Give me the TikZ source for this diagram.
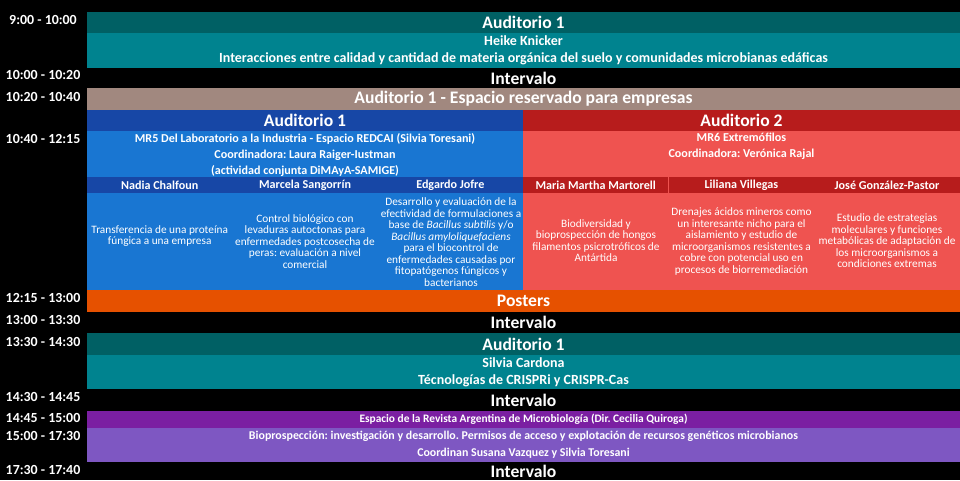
\documentclass[tikz,border=0pt]{standalone}
\usepackage{fontspec}
\setmainfont{Carlito}
\usetikzlibrary{positioning}
\definecolor{tealosc}{HTML}{006064}
\definecolor{tealcla}{HTML}{00838F}
\definecolor{marron}{HTML}{A1887F}
\definecolor{azulosc}{HTML}{1747A6}
\definecolor{azulcla}{HTML}{1976D2}
\definecolor{rojoosc}{HTML}{B71C1C}
\definecolor{rojocla}{HTML}{EF5350}
\definecolor{naranja}{HTML}{E65100}
\definecolor{violeta}{HTML}{7B1FA2}
\definecolor{lila}{HTML}{7E57C2}
\frenchspacing
\begin{document}
\begin{tikzpicture}[x=1pt,y=-1pt,
  franja/.style={anchor=north west,inner sep=0pt,outer sep=0pt,minimum width=873pt,text=white,align=center,font=\bfseries\fontsize{14}{17}\selectfont},
  titulo/.style={font=\bfseries\fontsize{17.6}{18}\selectfont},
  chica/.style={font=\bfseries\fontsize{12.1}{16}\selectfont},
  hora/.style={text=white,font=\bfseries\fontsize{13.9}{14}\selectfont},
  nombre/.style={franja,minimum width=145.4pt,minimum height=16pt,font=\bfseries\fontsize{12.1}{13}\selectfont},
  resumen/.style={text=white,align=center,font=\fontsize{11.3}{11.5}\selectfont}]
\fill[black] (0,0) rectangle (960,480);
\useasboundingbox (0,0) rectangle (960,480);

% horarios
\foreach \h/\y [count=\i] in {9:00 - 10:00/19.5, 10:00 - 10:20/75, 10:20 - 10:40/97,
    10:40 - 12:15/139, 12:15 - 13:00/298, 13:00 - 13:30/320, 13:30 - 14:30/341.5,
    14:30 - 14:45/397, 14:45 - 15:00/418, 15:00 - 17:30/436, 17:30 - 17:40/470}
  \node[hora] (h\i) at (43,\y) {\h};

% manana
\node[franja,titulo,fill=tealosc,minimum height=21pt] (aud1) at (87,12) {Auditorio 1};
\node[franja,fill=tealcla,minimum height=35pt] (knicker) at (87,33)
  {Heike Knicker\\Interacciones entre calidad y cantidad de materia orgánica del suelo y comunidades microbianas edáficas};
\node[franja,titulo,fill=black,minimum height=20pt] (int1) at (87,68) {Intervalo};
\node[franja,titulo,fill=marron,minimum height=22pt] (empresas) at (87,88) {Auditorio 1 - Espacio reservado para empresas};

% mesas redondas
\node[franja,titulo,fill=azulosc,minimum width=436pt,minimum height=21pt] (aud1b) at (87,110) {Auditorio 1};
\node[franja,titulo,fill=rojoosc,minimum width=437pt,minimum height=21pt] (aud2) at (523,110) {Auditorio 2};
\node[franja,fill=azulcla,minimum width=436pt,minimum height=159pt] (mr5) at (87,131) {};
\node[franja,fill=rojocla,minimum width=437pt,minimum height=159pt] (mr6) at (523,131) {};
\node[chica,text=white,align=center] (mr5t) at (305,155)
  {MR5 Del Laboratorio a la Industria - Espacio REDCAI (Silvia Toresani)\\Coordinadora: Laura Raiger-Iustman\\(actividad conjunta DiMAyA-SAMIGE)};
\node[chica,text=white,align=center] (mr6t) at (741.5,146)
  {MR6 Extremófilos\\Coordinadora: Verónica Rajal};
\foreach \n [count=\i from 0] in {Nadia Chalfoun, Marcela Sangorrín, Edgardo Jofre}
  \node[nombre,fill=azulosc] (na\i) at (87+145.33*\i,177) {\n};
\foreach \n [count=\i from 0] in {Maria Martha Martorell, Liliana Villegas, José González-Pastor}
  \node[nombre,fill=rojoosc] (nr\i) at (523+145.67*\i,177) {\n};
\node[resumen] (ra0) at (159.7,236) {Transferencia de una proteína\\fúngica a una empresa};
\node[resumen] (ra1) at (305,241.5) {Control biológico con\\levaduras autoctonas para\\enfermedades postcosecha de\\peras: evaluación a nivel\\comercial};
\node[resumen] (ra2) at (451,242) {Desarrollo y evaluación de la\\efectividad de formulaciones a\\base de \textit{Bacillus subtilis} y/o\\\textit{Bacillus amyloliquefaciens}\\para el biocontrol de\\enfermedades causadas por\\fitopatógenos fúngicos y\\bacterianos};
\node[resumen] (rr0) at (596,240.5) {Biodiversidad y\\bioprospección de hongos\\filamentos psicrotróficos de\\Antártida};
\node[resumen] (rr1) at (741.5,241.5) {Drenajes ácidos mineros como\\un interesante nicho para el\\aislamiento y estudio de\\microorganismos resistentes a\\cobre con potencial uso en\\procesos de biorremediación};
\node[resumen] (rr2) at (887,241) {Estudio de estrategias\\moleculares y funciones\\metabólicas de adaptación de\\los microorganismos a\\condiciones extremas};

% tarde
\node[franja,titulo,fill=naranja,minimum height=22pt] (posters) at (87,290) {Posters};
\node[franja,titulo,fill=black,minimum height=21pt] (int2) at (87,312) {Intervalo};
\node[franja,titulo,fill=tealosc,minimum height=22pt] (aud1c) at (87,333) {Auditorio 1};
\node[franja,fill=tealcla,minimum height=34pt] (cardona) at (87,355)
  {Silvia Cardona\\Técnologías de CRISPRi y CRISPR-Cas};
\node[franja,titulo,fill=black,minimum height=22pt] (int3) at (87,389) {Intervalo};
\node[franja,fill=violeta,minimum height=17pt,font=\bfseries\fontsize{11.4}{14}\selectfont] (revista) at (87,411)
  {Espacio de la Revista Argentina de Microbiología (Dir. Cecilia Quiroga)};
\node[franja,fill=lila,minimum height=34pt,font=\bfseries\fontsize{11.9}{17}\selectfont] (biopros) at (87,428)
  {Bioprospección: investigación y desarrollo. Permisos de acceso y explotación de recursos genéticos microbianos\\Coordinan Susana Vazquez y Silvia Toresani};
\node[franja,titulo,fill=black,minimum height=18pt] (int4) at (87,462) {Intervalo};
\end{tikzpicture}
\end{document}
